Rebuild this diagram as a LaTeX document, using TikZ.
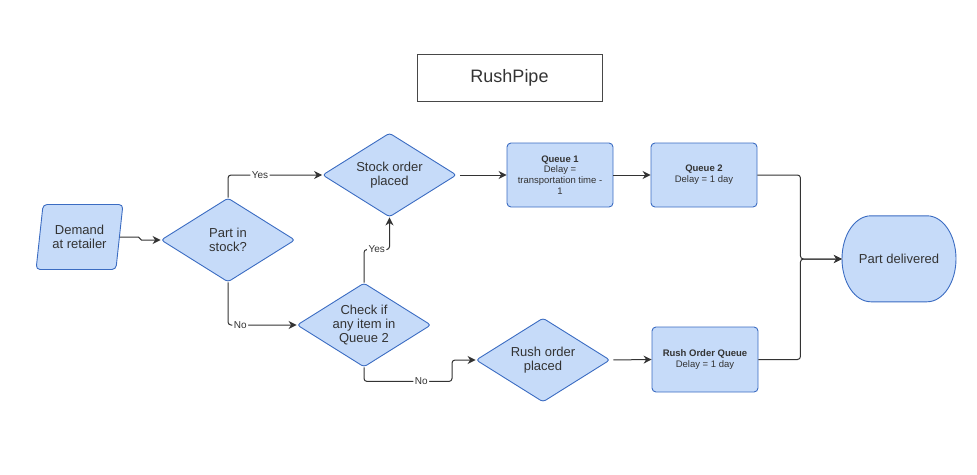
\documentclass[tikz,border=0pt]{standalone}
\usepackage{fontspec}
\setmainfont{Liberation Sans}
\usetikzlibrary{arrows.meta,shapes.geometric,positioning,backgrounds}
\definecolor{boxfill}{HTML}{C6DBF9}
\definecolor{boxline}{HTML}{3B6CC2}
\definecolor{ink}{HTML}{333333}

\begin{document}
\begin{tikzpicture}[
  x=1pt, y=-1pt,
  font=\fontsize{13}{14}\selectfont, text=ink,
  blk/.style={draw=boxline, fill=boxfill, rounded corners=4pt, minimum width=106pt, minimum height=64pt,
              align=center, inner sep=2pt, line width=0.9pt, font=\fontsize{9.5}{10.8}\selectfont},
  dec/.style={diamond, draw=boxline, fill=boxfill, rounded corners=3pt, aspect=1.6,
              minimum width=134pt, minimum height=84pt, inner sep=0pt, align=center, line width=0.9pt},
  io/.style={trapezium, trapezium left angle=78, trapezium right angle=102, trapezium stretches=true,
             draw=boxline, fill=boxfill, rounded corners=4pt, minimum width=87pt, minimum height=65pt,
             align=center, inner sep=1pt, line width=0.9pt},
  term/.style={minimum width=114pt, minimum height=86pt},
  ttl/.style={draw=ink!90, minimum width=185pt, minimum height=47pt, font=\fontsize{18}{20}\selectfont,
              line width=0.8pt},
  lbl/.style={fill=white, inner sep=1.5pt, font=\fontsize{10}{11}\selectfont},
  ar/.style={draw=ink, line width=1pt, rounded corners=3pt, -{Stealth[length=8pt,width=8pt]}},
]
\useasboundingbox (0,0) rectangle (977,474);

%% ---------- title ----------
\node[ttl] (title) at (509.5,77.5) {RushPipe};

%% ---------- decisions ----------
\node[io] (demand) at (79.5,237) {Demand\\at retailer};
\node[dec] (instock) at (228,240) {Part in\\stock?};
\node[dec] (stockord) at (389.5,175) {Stock order\\placed};
\node[dec] (check) at (364,325) {Check if\\any item in\\Queue 2};
\node[dec] (rushord) at (543,360) {Rush order\\placed};

%% ---------- queues ----------
\node[blk] (q1) at (560,175) {\textbf{Queue 1}\\Delay =\\transportation time -\\1};
\node[blk] (q2) at (704,175) {\textbf{Queue 2}\\Delay = 1 day};
\node[blk, minimum height=65pt] (rq) at (705,359.5) {\textbf{Rush Order Queue}\\Delay = 1 day};

%% ---------- end ----------
\node[term] (done) at (899,259) {Part delivered};
\begin{scope}[on background layer]
  \draw[draw=boxline, fill=boxfill, line width=0.9pt] ([xshift=-28pt]done.north) -- ++(56,0)
    arc[start angle=90, end angle=-90, x radius=29pt, y radius=43pt] -- ++(-56,0)
    arc[start angle=-90, end angle=-270, x radius=29pt, y radius=43pt] -- cycle;
\end{scope}

%% ---------- connectors ----------
\draw[ar, rounded corners=1.5pt] (demand.east) -- ++(20,0) |- (instock.west);
\draw[ar] (instock.north) |- node[lbl, pos=0.67] {Yes} (stockord.west);
\draw[ar] (instock.south) |- node[lbl, pos=0.59] {No} (check.west);
\draw[ar] (check.north) -- ++(0,-33) -| node[lbl, pos=0.25] {Yes} (stockord.south);
\draw[ar] (check.south) -- ++(0,14) -- node[lbl, pos=0.65] {No} ++(88,0) |- (rushord.west);
\draw[ar, shorten <=3pt] (stockord.east) -- (q1.west);
\draw[ar] (q1.east) -- (q2.west);
\draw[ar, shorten <=3pt] (rushord.east) -- (rq.west);
\draw[ar] (q2.east) -- ++(43,0) |- (done.west);
\draw[ar] (rq.east) -- ++(42,0) |- (done.west);

\end{tikzpicture}
\end{document}
